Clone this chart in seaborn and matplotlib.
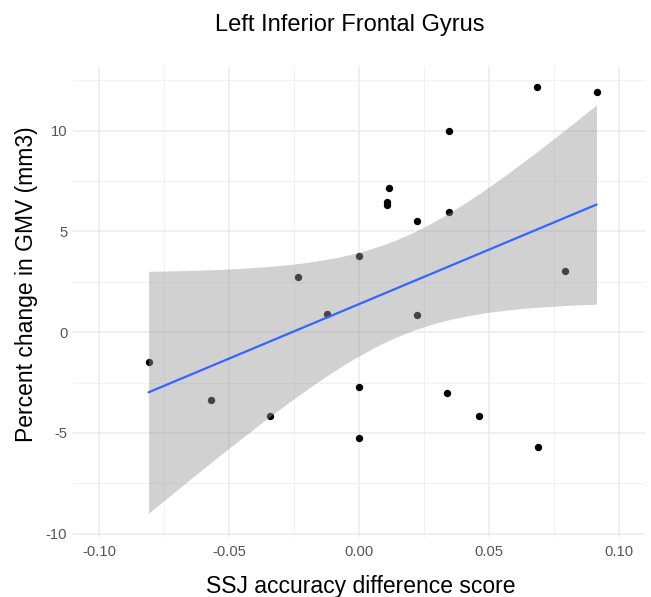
import numpy as np
import pandas as pd
import seaborn as sns
import matplotlib.pyplot as plt
from matplotlib.ticker import MultipleLocator, FormatStrFormatter

# valores
ssj_diff = [-0.0809, -0.0571, -0.0341, -0.0234, -0.0125, 0.0, 0.0, 0.0,
            0.0107, 0.0107, 0.0116, 0.0223, 0.0223, 0.0340, 0.0345, 0.0345,
            0.0461, 0.0685, 0.0690, 0.0792, 0.0913]
gmv_change = [-1.49, -3.37, -4.15, 2.74, 0.89, 3.77, -2.74, -5.23,
              6.45, 6.33, 7.13, 5.52, 0.86, -3.04, 9.98, 5.97,
              -4.15, 12.18, -5.69, 3.05, 11.91]

df = pd.DataFrame({"ssj_diff": ssj_diff, "gmv_change": gmv_change})

sns.set_theme(style="white")
plt.rcParams["font.family"] = ["Liberation Sans", "DejaVu Sans"]
plt.rcParams["axes.unicode_minus"] = False

fig = plt.figure(figsize=(6.51, 5.97), dpi=100)
ax = fig.add_axes([0.112, 0.1005, 0.879, 0.7895])

sns.scatterplot(data=df, x="ssj_diff", y="gmv_change", color="black",
                s=28, linewidth=0, ax=ax, zorder=3)

# recta lm + IC 95% (como geom_smooth(method = "lm"))
x = df["ssj_diff"].to_numpy()
y = df["gmv_change"].to_numpy()
n = len(x)
slope, intercept = np.polyfit(x, y, 1)
resid = y - (intercept + slope * x)
s = np.sqrt((resid ** 2).sum() / (n - 2))
xs = np.linspace(x.min(), x.max(), 100)
yhat = intercept + slope * xs
se = s * np.sqrt(1 / n + (xs - x.mean()) ** 2 / ((x - x.mean()) ** 2).sum())
tcrit = 2.093  # t(0.975, 19 gl)

ax.fill_between(xs, yhat - tcrit * se, yhat + tcrit * se,
                color="#999999", alpha=0.45, linewidth=0, zorder=4)
sns.lineplot(x=xs, y=yhat, color="#3366FF", linewidth=1.6, ax=ax, zorder=5)

ax.set_xlim(-0.11, 0.11)
ax.set_ylim(-10.16, 13.22)
ax.xaxis.set_major_locator(MultipleLocator(0.05))
ax.xaxis.set_minor_locator(MultipleLocator(0.025))
ax.yaxis.set_major_locator(MultipleLocator(5))
ax.yaxis.set_minor_locator(MultipleLocator(2.5))
ax.xaxis.set_major_formatter(FormatStrFormatter("%.2f"))
ax.yaxis.set_major_formatter(FormatStrFormatter("%d"))

ax.grid(which="major", color="#EBEBEB", linewidth=1.1)
ax.grid(which="minor", color="#F1F1F1", linewidth=0.7)
ax.set_axisbelow(True)
for sp in ax.spines.values():
    sp.set_visible(False)
ax.tick_params(which="both", length=0, labelsize=10.6, labelcolor="#555555")
ax.tick_params(axis="x", pad=6)
ax.tick_params(axis="y", pad=4)

ax.set_xlabel("")
ax.set_ylabel("")
fig.text(350 / 651, 1 - 31.5 / 597, "Left Inferior Frontal Gyrus",
         ha="center", va="baseline", fontsize=17, color="black")
fig.text(361 / 651, 1 - 593 / 597, "SSJ accuracy difference score",
         ha="center", va="baseline", fontsize=16.5, color="black")
fig.text(33 / 651, 1 - 284 / 597, "Percent change in GMV (mm3)",
         ha="center", va="baseline", rotation=90, rotation_mode="anchor",
         fontsize=16.5, color="black")

plt.savefig("out.png", dpi=100)
plt.close()
